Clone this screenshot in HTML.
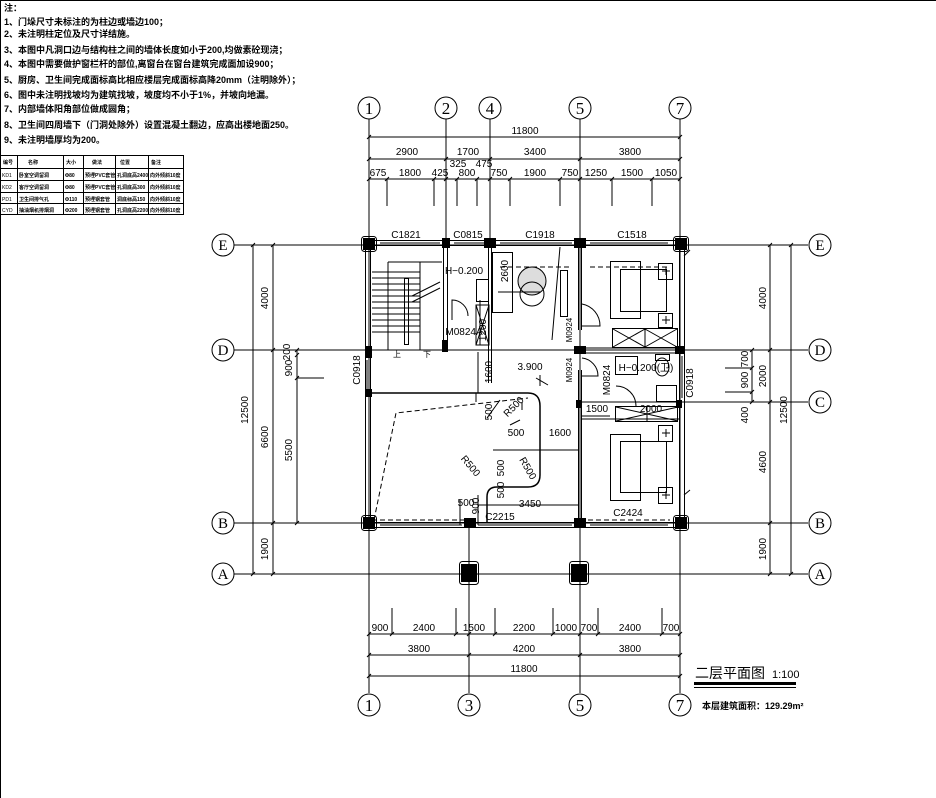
<!DOCTYPE html>
<html><head><meta charset="utf-8"><style>
html,body{margin:0;padding:0;background:#fff}
svg{display:block}
text{font-family:"Liberation Sans","Noto Sans CJK SC",sans-serif;fill:#000}
.n{font-size:9px;font-weight:bold}
.d{font-size:10px}
.s{font-size:5px;font-weight:bold}
</style></head><body>
<svg width="936" height="798" viewBox="0 0 936 798" xmlns="http://www.w3.org/2000/svg" stroke="#000" fill="none" stroke-width="1">
<line x1="0.5" y1="0" x2="0.5" y2="798"/>
<line x1="0" y1="0.5" x2="936" y2="0.5"/>
<g stroke="none">
<text class="n" x="4" y="11">注：</text>
<text class="n" x="4" y="25">1、门垛尺寸未标注的为柱边或墙边100；</text>
<text class="n" x="4" y="37">2、未注明柱定位及尺寸详结施。</text>
<text class="n" x="4" y="53">3、本图中凡洞口边与结构柱之间的墙体长度如小于200,均做素砼现浇；</text>
<text class="n" x="4" y="67">4、本图中需要做护窗栏杆的部位,离窗台在窗台建筑完成面加设900；</text>
<text class="n" x="4" y="83">5、厨房、卫生间完成面标高比相应楼层完成面标高降20mm（注明除外）；</text>
<text class="n" x="4" y="98">6、图中未注明找坡均为建筑找坡，坡度均不小于1%，并坡向地漏。</text>
<text class="n" x="4" y="112">7、内部墙体阳角部位做成圆角；</text>
<text class="n" x="4" y="128">8、卫生间四周墙下（门洞处除外）设置混凝土翻边，应高出楼地面250。</text>
<text class="n" x="4" y="143">9、未注明墙厚均为200。</text>
</g>
<g stroke-width="1">
<rect x="0.5" y="155.5" width="183" height="59"/>
<line x1="0" y1="168.5" x2="183" y2="168.5"/><line x1="0" y1="180.5" x2="183" y2="180.5"/>
<line x1="0" y1="192.5" x2="183" y2="192.5"/><line x1="0" y1="203.5" x2="183" y2="203.5"/>
<line x1="17.5" y1="155" x2="17.5" y2="214"/><line x1="63.5" y1="155" x2="63.5" y2="214"/>
<line x1="83.5" y1="155" x2="83.5" y2="214"/><line x1="115.5" y1="155" x2="115.5" y2="214"/>
<line x1="148.5" y1="155" x2="148.5" y2="214"/>
</g>
<g stroke="none">
<text class="s" x="3" y="164">编号</text><text class="s" x="28" y="164">名称</text><text class="s" x="66" y="164">大小</text><text class="s" x="92" y="164">做法</text><text class="s" x="120" y="164">位置</text><text class="s" x="151" y="164">备注</text>
<text class="s" x="2" y="177" style="font-weight:normal">KD1</text><text class="s" x="19" y="177">卧室空调留洞</text><text class="s" x="65" y="177">Φ80</text><text class="s" x="85" y="177">预埋PVC套管</text><text class="s" x="117" y="177">孔洞底高2400</text><text class="s" x="150" y="177">向外倾斜10度</text>
<text class="s" x="2" y="189" style="font-weight:normal">KD2</text><text class="s" x="19" y="189">客厅空调留洞</text><text class="s" x="65" y="189">Φ80</text><text class="s" x="85" y="189">预埋PVC套管</text><text class="s" x="117" y="189">孔洞底高300</text><text class="s" x="150" y="189">向外倾斜10度</text>
<text class="s" x="2" y="201" style="font-weight:normal">PD1</text><text class="s" x="19" y="201">卫生间排气孔</text><text class="s" x="65" y="201">Φ110</text><text class="s" x="85" y="201">预埋钢套管</text><text class="s" x="117" y="201">洞底标高150</text><text class="s" x="150" y="201">向外倾斜10度</text>
<text class="s" x="2" y="212" style="font-weight:normal">CYD</text><text class="s" x="19" y="212">抽油烟机排烟洞</text><text class="s" x="65" y="212">Φ200</text><text class="s" x="85" y="212">预埋钢套管</text><text class="s" x="117" y="212">孔洞底高2200</text><text class="s" x="150" y="212">向外倾斜10度</text>
</g>

<g stroke-width="1">
<line x1="369" y1="119" x2="369" y2="693"/>
<line x1="446" y1="119" x2="446" y2="245"/>
<line x1="490" y1="119" x2="490" y2="245"/>
<line x1="580" y1="119" x2="580" y2="693"/>
<line x1="680" y1="119" x2="680" y2="693"/>
<line x1="469" y1="522" x2="469" y2="693"/>
<line x1="234" y1="245" x2="808" y2="245"/>
<line x1="234" y1="350" x2="808" y2="350"/>
<line x1="580" y1="402" x2="808" y2="402"/>
<line x1="234" y1="523" x2="808" y2="523"/>
<line x1="234" y1="574" x2="808" y2="574"/>
</g>
<g stroke-width="1" fill="#fff">
<circle cx="369" cy="108" r="11"/><circle cx="446" cy="108" r="11"/><circle cx="490" cy="108" r="11"/><circle cx="580" cy="108" r="11"/><circle cx="680" cy="108" r="11"/>
<circle cx="369" cy="705" r="11"/><circle cx="469" cy="705" r="11"/><circle cx="580" cy="705" r="11"/><circle cx="680" cy="705" r="11"/>
<circle cx="223" cy="245" r="11"/><circle cx="223" cy="350" r="11"/><circle cx="223" cy="523" r="11"/><circle cx="223" cy="574" r="11"/>
<circle cx="820" cy="245" r="11"/><circle cx="820" cy="350" r="11"/><circle cx="820" cy="402" r="11"/><circle cx="820" cy="523" r="11"/><circle cx="820" cy="574" r="11"/>
</g>
<g stroke="none" text-anchor="middle" style="font-size:17px">
<text x="369" y="114" style="font-family:'Liberation Serif',serif;font-size:17px">1</text>
<text x="446" y="114" style="font-family:'Liberation Serif',serif;font-size:17px">2</text>
<text x="490" y="114" style="font-family:'Liberation Serif',serif;font-size:17px">4</text>
<text x="580" y="114" style="font-family:'Liberation Serif',serif;font-size:17px">5</text>
<text x="680" y="114" style="font-family:'Liberation Serif',serif;font-size:17px">7</text>
<text x="369" y="711" style="font-family:'Liberation Serif',serif;font-size:17px">1</text>
<text x="469" y="711" style="font-family:'Liberation Serif',serif;font-size:17px">3</text>
<text x="580" y="711" style="font-family:'Liberation Serif',serif;font-size:17px">5</text>
<text x="680" y="711" style="font-family:'Liberation Serif',serif;font-size:17px">7</text>
</g>
<g stroke="none" text-anchor="middle">
<text x="223" y="250" style="font-family:'Liberation Serif',serif;font-size:15px">E</text><text x="223" y="355" style="font-family:'Liberation Serif',serif;font-size:15px">D</text><text x="223" y="528" style="font-family:'Liberation Serif',serif;font-size:15px">B</text><text x="223" y="579" style="font-family:'Liberation Serif',serif;font-size:15px">A</text>
<text x="820" y="250" style="font-family:'Liberation Serif',serif;font-size:15px">E</text><text x="820" y="355" style="font-family:'Liberation Serif',serif;font-size:15px">D</text><text x="820" y="407" style="font-family:'Liberation Serif',serif;font-size:15px">C</text><text x="820" y="528" style="font-family:'Liberation Serif',serif;font-size:15px">B</text><text x="820" y="579" style="font-family:'Liberation Serif',serif;font-size:15px">A</text>
</g>

<g stroke-width="1">
<line x1="369" y1="137" x2="680" y2="137"/>
<line x1="369" y1="159" x2="680" y2="159"/>
<line x1="369" y1="179" x2="680" y2="179"/>
<path d="M387 179V206M434 179V206M457 179V206M477 179V206M510 179V206M560 179V206M612 179V206M652 179V206"/>
<path d="M367 139l4-4M444 161l4-4M488 161l4-4M578 161l4-4M678 139l4-4M678 161l4-4M385 181l4-4M432 181l4-4M444 181l4-4M455 181l4-4M475 181l4-4M488 181l4-4M508 181l4-4M558 181l4-4M578 181l4-4M610 181l4-4M650 181l4-4M678 181l4-4M367 161l4-4M367 181l4-4"/>
</g>
<g stroke="none" class="d" text-anchor="middle">
<text x="525" y="134">11800</text>
<text x="407" y="155">2900</text><text x="468" y="155">1700</text><text x="535" y="155">3400</text><text x="630" y="155">3800</text>
<text x="458" y="167">325</text><text x="484" y="167">475</text>
<text x="378" y="176">675</text><text x="410" y="176">1800</text><text x="440" y="176">425</text><text x="467" y="176">800</text><text x="499" y="176">750</text><text x="535" y="176">1900</text><text x="570" y="176">750</text><text x="596" y="176">1250</text><text x="632" y="176">1500</text><text x="666" y="176">1050</text>
</g>

<g stroke-width="1">
<line x1="369" y1="634" x2="680" y2="634"/>
<line x1="369" y1="655" x2="680" y2="655"/>
<line x1="369" y1="676" x2="680" y2="676"/>
<path d="M392 608V634M456 608V634M495 608V634M553 608V634M598 608V634M662 608V634"/>
<path d="M367 636l4-4M390 636l4-4M454 636l4-4M467 636l4-4M493 636l4-4M551 636l4-4M578 636l4-4M596 636l4-4M660 636l4-4M678 636l4-4M367 657l4-4M467 657l4-4M578 657l4-4M678 657l4-4M367 678l4-4M678 678l4-4"/>
</g>
<g stroke="none" class="d" text-anchor="middle">
<text x="380" y="631">900</text><text x="424" y="631">2400</text><text x="474" y="631">1500</text><text x="524" y="631">2200</text><text x="566" y="631">1000</text><text x="589" y="631">700</text><text x="630" y="631">2400</text><text x="671" y="631">700</text>
<text x="419" y="652">3800</text><text x="524" y="652">4200</text><text x="630" y="652">3800</text>
<text x="524" y="672">11800</text>
</g>

<g stroke-width="1">
<line x1="253" y1="245" x2="253" y2="574"/>
<line x1="273" y1="245" x2="273" y2="574"/>
<line x1="297" y1="350" x2="297" y2="523"/>
<path d="M297 350H324M297 378H324M297 523H310"/>
<path d="M251 247l4-4M251 576l4-4M271 247l4-4M271 352l4-4M271 525l4-4M271 576l4-4M295 352l4-4M295 357l4-4M295 380l4-4M295 525l4-4"/>
</g>
<g stroke="none" class="d" text-anchor="middle">
<text transform="translate(248,410) rotate(-90)">12500</text>
<text transform="translate(268,298) rotate(-90)">4000</text>
<text transform="translate(268,437) rotate(-90)">6600</text>
<text transform="translate(268,549) rotate(-90)">1900</text>
<text transform="translate(290,352) rotate(-90)">200</text>
<text transform="translate(292,368) rotate(-90)">900</text>
<text transform="translate(292,450) rotate(-90)">5500</text>
</g>
<g stroke-width="1">
<line x1="752" y1="350" x2="752" y2="402"/>
<line x1="770" y1="245" x2="770" y2="574"/>
<line x1="791" y1="245" x2="791" y2="574"/>
<path d="M725 368H752M725 392H752"/>
<path d="M750 352l4-4M750 370l4-4M750 394l4-4M750 404l4-4M768 247l4-4M768 352l4-4M768 404l4-4M768 525l4-4M768 576l4-4M789 247l4-4M789 576l4-4"/>
</g>
<g stroke="none" class="d" text-anchor="middle">
<text transform="translate(748,359) rotate(-90)">700</text>
<text transform="translate(748,380) rotate(-90)">900</text>
<text transform="translate(748,415) rotate(-90)">400</text>
<text transform="translate(766,298) rotate(-90)">4000</text>
<text transform="translate(766,376) rotate(-90)">2000</text>
<text transform="translate(766,462) rotate(-90)">4600</text>
<text transform="translate(766,549) rotate(-90)">1900</text>
<text transform="translate(787,410) rotate(-90)">12500</text>
</g>

<g stroke-width="1">
<rect x="365.5" y="240.5" width="319" height="287"/>
<rect x="370.5" y="245.5" width="309" height="277"/>
<path d="M380 243H440M454 243H484M500 243H572M590 243H668M380 525H462M478 525H572M590 525H668"/>
<path d="M367 360V390M682 356V398"/>
</g>
<g fill="#000" stroke="none">
<rect x="363" y="238" width="12" height="12"/><rect x="442" y="238" width="8" height="10"/><rect x="484" y="238" width="12" height="10"/><rect x="574" y="238" width="12" height="10"/><rect x="675" y="238" width="12" height="12"/>
<rect x="366" y="346" width="6" height="12"/><rect x="366" y="389" width="6" height="8"/>
<rect x="574" y="346" width="12" height="8"/><rect x="675" y="346" width="10" height="8"/>
<rect x="576" y="400" width="6" height="8"/><rect x="676" y="400" width="6" height="8"/>
<rect x="363" y="517" width="12" height="12"/><rect x="464" y="518" width="12" height="9"/><rect x="574" y="518" width="12" height="9"/><rect x="675" y="517" width="12" height="12"/>
<rect x="461" y="564" width="16" height="18"/><rect x="571" y="564" width="16" height="18"/>
<rect x="442" y="340" width="6" height="12"/>
</g>
<g stroke-width="1">
<path d="M443.5 245V352M447.5 245V352"/>
<rect x="459.5" y="561.5" width="19" height="23" rx="3"/><rect x="569.5" y="561.5" width="19" height="23" rx="3"/>
<rect x="361.5" y="236.5" width="15" height="15" rx="3"/><rect x="673.5" y="236.5" width="15" height="15" rx="3"/>
<rect x="361.5" y="515.5" width="15" height="15" rx="3"/><rect x="673.5" y="515.5" width="15" height="15" rx="3"/>
<path d="M488.5 245V383M491.5 245V383M578.5 245V330M581.5 245V330M578.5 370V520M581.5 370V520M581 348H679M581 353H679M582 402H679M582 419H679"/>
<path d="M372 272H420M372 278H420M372 284H420M372 290H420M372 296H420M372 302H420M372 308H420M372 314H420M372 320H420M372 326H420M372 332H420"/>
<rect x="404.5" y="278.5" width="4" height="66"/>
<path d="M388 262H442M388 262V350M420 262V350M412 296L440 282M412 302L440 288"/>
<path d="M372 393H528Q540 393 540 406V475Q540 487 528 487H497Q487 487 487 497V522" stroke-width="1.5"/>
<path d="M374 520L396 413L528 398M372 520H470M588 520H670M590 267H670M500 267H570" stroke-dasharray="5,3"/>
<rect x="492.5" y="252.5" width="20" height="60"/>
<circle cx="532" cy="281" r="14" fill="#ddd"/><circle cx="532" cy="294" r="12"/>
<rect x="560.5" y="270.5" width="7" height="46"/>
<path d="M560 247L552 340M498 292H540M480 300L480 345M476 305H489V345H476Z"/>
<rect x="476.5" y="279.5" width="12" height="22"/>
<path d="M476 305L489 345M489 305L476 345"/>
<path d="M452 320V300A16 16 0 0 1 468 316"/>
<path d="M582 304A22 22 0 0 1 600 326H582"/>
<path d="M582 358A18 18 0 0 1 598 376H582"/>
<path d="M616 386A20 20 0 0 1 636 406"/>
<rect x="615.5" y="406.5" width="62" height="15"/><path d="M616 407L678 421M616 421L678 407M647 407V421"/>
<rect x="612.5" y="328.5" width="65" height="19"/><path d="M613 329L645 347M613 347L645 329M645 329L677 347M645 347L677 329M645 329V347"/>
<rect x="615.5" y="356.5" width="22" height="18"/><ellipse cx="662" cy="367" rx="7" ry="9"/><rect x="655.5" y="354.5" width="14" height="6"/>
<rect x="656.5" y="385.5" width="20" height="16"/>
<rect x="610.5" y="261.5" width="30" height="57"/><rect x="620.5" y="269.5" width="46" height="42"/>
<rect x="658.5" y="263.5" width="14" height="16"/><rect x="658.5" y="313.5" width="14" height="14"/>
<rect x="610.5" y="434.5" width="30" height="66"/><rect x="620.5" y="441.5" width="46" height="51"/>
<rect x="658.5" y="425.5" width="14" height="16"/><rect x="658.5" y="487.5" width="14" height="16"/>
<path d="M662 271H670M666 267V275M662 320H670M666 316V324M662 433H670M666 429V437M662 495H670M666 491V499"/>
<path d="M684 256L690 250M684 495L690 490"/>
<path d="M478 352V393M476 393V402M522 402V410M493 450H578M460 525V500M478 495V525M478 505H578M582 416H610M487 418L500 400M510 425L520 420"/>
<path d="M536 378L548 385M540 375V386"/>
</g>

<g stroke="none" class="d" text-anchor="middle">
<text x="406" y="238">C1821</text><text x="468" y="238">C0815</text><text x="540" y="238">C1918</text><text x="632" y="238">C1518</text>
<text x="500" y="520">C2215</text><text x="628" y="516">C2424</text>
<text x="464" y="274">H−0.200</text>
<text x="464" y="335">M0824A</text>
<text x="530" y="370">3.900</text>
<text x="646" y="371">H−0.200(卫)</text>
<text x="597" y="412">1500</text><text x="651" y="412">2000</text>
<text x="560" y="436">1600</text><text x="516" y="436">500</text>
<text x="466" y="506">500</text><text x="530" y="507">3450</text>
<text x="397" y="357" style="font-size:8px">上</text><text x="427" y="357" style="font-size:8px">下</text>
<text transform="translate(360,370) rotate(-90)">C0918</text>
<text transform="translate(693,383) rotate(-90)">C0918</text>
<text transform="translate(508,271) rotate(-90)">2600</text>
<text transform="translate(486,330) rotate(-90)">1200</text>
<text transform="translate(492,372) rotate(-90)">1600</text>
<text transform="translate(492,412) rotate(-90)">500</text>
<text transform="translate(516,409) rotate(-45)">R500</text>
<text transform="translate(525,470) rotate(60)">R500</text>
<text transform="translate(468,468) rotate(50)">R500</text>
<text transform="translate(504,468) rotate(-90)">500</text>
<text transform="translate(504,490) rotate(-90)">500</text>
<text transform="translate(479,506) rotate(-90)">900</text>
<text transform="translate(572,330) rotate(-90)" style="font-size:8px">M0924</text>
<text transform="translate(572,370) rotate(-90)" style="font-size:8px">M0924</text>
<text transform="translate(610,380) rotate(-90)">M0824</text>
</g>

<g stroke="none">
<text x="695" y="678" style="font-size:14px;font-family:'Noto Sans CJK SC',sans-serif">二层平面图</text>
<text x="772" y="678" style="font-size:11px">1:100</text>
<rect x="694" y="682" width="102" height="3" fill="#000"/>
<rect x="694" y="687" width="102" height="1" fill="#000"/>
<text x="702" y="709" style="font-size:9px;font-weight:bold">本层建筑面积：129.29m²</text>
</g>
</svg>
</body></html>
